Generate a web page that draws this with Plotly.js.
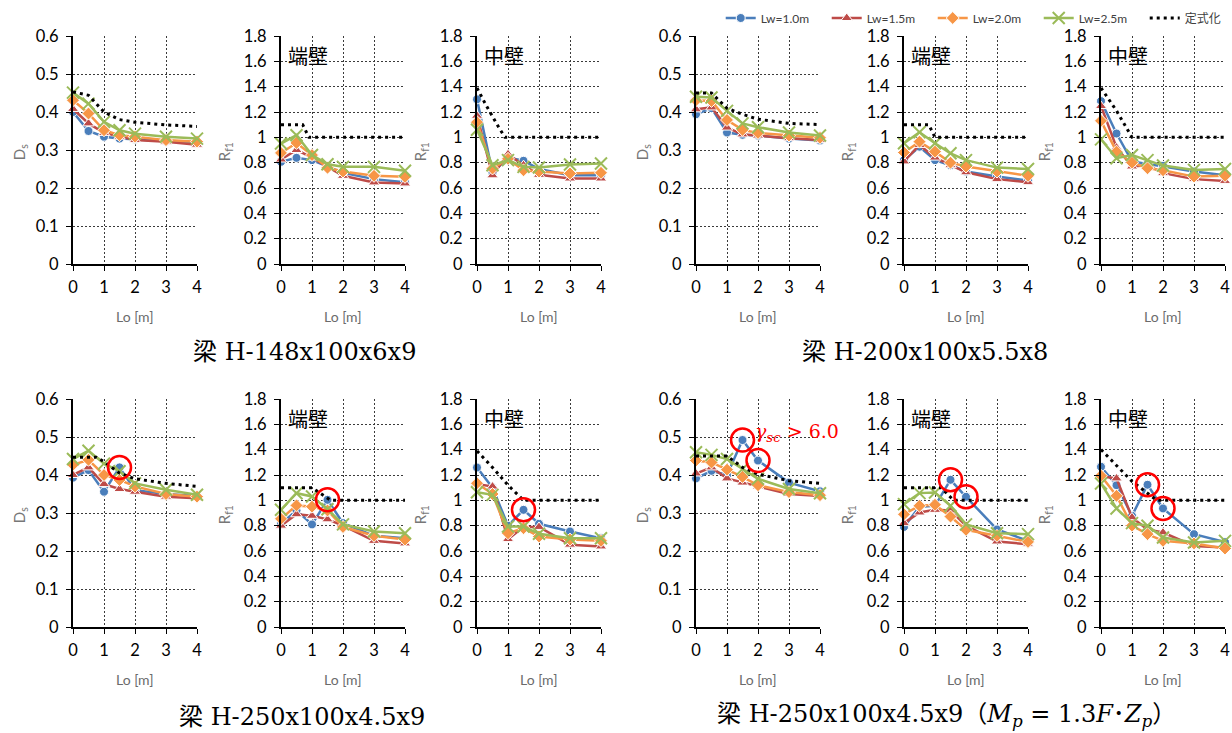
<!DOCTYPE html>
<html><head><meta charset="utf-8">
<script src="https://cdn.plot.ly/plotly-3.0.1.min.js"></script>
<style>html,body{margin:0;padding:0;background:#fff}#chart{width:1232px;height:733px}</style>
</head><body><div id="chart"></div>
<script>
// ---- common ----
const lo = [0, 0.5, 1, 1.5, 2, 3, 4];
const xTicks = [0, 1, 2, 3, 4];
const dsTicks = [0, 0.1, 0.2, 0.3, 0.4, 0.5, 0.6];
const rTicks = [0, 0.2, 0.4, 0.6, 0.8, 1, 1.2, 1.4, 1.6, 1.8];
const seriesNames = ['Lw=1.0m', 'Lw=1.5m', 'Lw=2.0m', 'Lw=2.5m'];
const formulaName = '定式化';
const wallEnd = '端壁';
const wallMid = '中壁';
const xTitle = 'Lo [m]';
const dsTitle = 'D<sub>s</sub>';
const rTitle = 'R<sub>f1</sub>';
const captions = ['梁 H-148x100x6x9', '梁 H-200x100x5.5x8', '梁 H-250x100x4.5x9',
  '梁 H-250x100x4.5x9（<i>M<sub>p</sub></i> = 1.3<i>F</i>･<i>Z<sub>p</sub></i>）'];
const noteText = '<i>γ<sub>sc</sub></i> > 6.0';

// ---- group A: H-148x100x6x9 ----
const dsA_10 = [0.40, 0.35, 0.335, 0.33, 0.328, 0.323, 0.318];
const dsA_15 = [0.408, 0.37, 0.345, 0.335, 0.326, 0.322, 0.314];
const dsA_20 = [0.431, 0.396, 0.352, 0.339, 0.335, 0.326, 0.322];
const dsA_25 = [0.451, 0.422, 0.374, 0.352, 0.343, 0.335, 0.330];
const dsA_fx = [0, 0.5, 1, 1.5, 2, 3, 4];
const dsA_fy = [0.453, 0.444, 0.40, 0.38, 0.373, 0.366, 0.362];
const endA_10 = [0.807, 0.838, 0.82, 0.77, 0.72, 0.67, 0.645];
const endA_15 = [0.825, 0.90, 0.84, 0.77, 0.696, 0.644, 0.636];
const endA_20 = [0.877, 0.956, 0.86, 0.76, 0.73, 0.696, 0.688];
const endA_25 = [0.951, 1.017, 0.86, 0.788, 0.767, 0.767, 0.736];
const endA_fx = [0, 0.7, 0.9, 4];
const endA_fy = [1.1, 1.1, 1.0, 1.0];
const midA_10 = [1.30, 0.72, 0.84, 0.815, 0.75, 0.70, 0.70];
const midA_15 = [1.17, 0.70, 0.867, 0.78, 0.704, 0.675, 0.675];
const midA_20 = [1.12, 0.754, 0.83, 0.74, 0.73, 0.715, 0.72];
const midA_25 = [1.06, 0.78, 0.82, 0.767, 0.762, 0.786, 0.793];
const midA_fx = [0, 0.3, 0.7, 0.9, 4];
const midA_fy = [1.39, 1.25, 1.08, 1.0, 1.0];

// ---- group B: H-200x100x5.5x8 ----
const dsB_10 = [0.394, 0.41, 0.346, 0.34, 0.338, 0.33, 0.325];
const dsB_15 = [0.407, 0.412, 0.359, 0.341, 0.338, 0.331, 0.326];
const dsB_20 = [0.431, 0.429, 0.379, 0.353, 0.345, 0.338, 0.332];
const dsB_25 = [0.44, 0.438, 0.403, 0.37, 0.36, 0.346, 0.338];
const dsB_fx = [0, 0.5, 1, 1.5, 2, 3, 4];
const dsB_fy = [0.45, 0.45, 0.41, 0.394, 0.381, 0.37, 0.367];
const endB_10 = [0.82, 0.926, 0.82, 0.78, 0.73, 0.69, 0.66];
const endB_15 = [0.81, 0.94, 0.84, 0.78, 0.724, 0.67, 0.646];
const endB_20 = [0.88, 0.966, 0.887, 0.80, 0.77, 0.73, 0.696];
const endB_25 = [0.953, 1.04, 0.953, 0.874, 0.82, 0.761, 0.75];
const endB_fx = [0, 0.8, 1.0, 4];
const endB_fy = [1.1, 1.1, 1.0, 1.0];
const midB_10 = [1.286, 1.03, 0.81, 0.79, 0.775, 0.73, 0.70];
const midB_15 = [1.247, 0.92, 0.77, 0.78, 0.717, 0.67, 0.656];
const midB_20 = [1.13, 0.887, 0.80, 0.756, 0.74, 0.69, 0.696];
const midB_25 = [0.984, 0.835, 0.86, 0.82, 0.777, 0.743, 0.75];
const midB_fx = [0, 0.5, 1.0, 4];
const midB_fy = [1.39, 1.21, 1.0, 1.0];

// ---- group C: H-250x100x4.5x9 ----
const dsC_10 = [0.393, 0.413, 0.356, 0.42, 0.36, 0.35, 0.345];
const dsC_15 = [0.40, 0.42, 0.376, 0.363, 0.356, 0.343, 0.339];
const dsC_20 = [0.427, 0.44, 0.40, 0.387, 0.37, 0.35, 0.343];
const dsC_25 = [0.442, 0.464, 0.43, 0.41, 0.378, 0.361, 0.348];
const dsC_fx = [0, 0.75, 1.0, 1.5, 2, 3, 4];
const dsC_fy = [0.447, 0.447, 0.435, 0.405, 0.39, 0.378, 0.37];
const endC_10 = [0.814, 0.92, 0.81, 1.004, 0.82, 0.72, 0.70];
const endC_15 = [0.80, 0.89, 0.878, 0.85, 0.80, 0.68, 0.66];
const endC_20 = [0.854, 0.96, 0.95, 0.92, 0.79, 0.72, 0.69];
const endC_25 = [0.925, 1.056, 1.03, 0.93, 0.81, 0.754, 0.74];
const endC_fx = [0, 1.0, 1.6, 4];
const endC_fy = [1.1, 1.1, 1.0, 1.0];
const midC_10 = [1.259, 1.10, 0.80, 0.925, 0.815, 0.754, 0.70];
const midC_15 = [1.13, 1.109, 0.694, 0.79, 0.79, 0.65, 0.636];
const midC_20 = [1.135, 1.05, 0.74, 0.78, 0.715, 0.69, 0.68];
const midC_25 = [1.064, 1.043, 0.793, 0.793, 0.736, 0.70, 0.70];
const midC_fx = [0, 0.5, 1.0, 1.5, 4];
const midC_fy = [1.39, 1.26, 1.12, 1.0, 1.0];
const hlC = [3];

// ---- group D: H-250x100x4.5x9 (Mp = 1.3F·Zp) ----
const dsD_10 = [0.391, 0.411, 0.40, 0.492, 0.438, 0.38, 0.357];
const dsD_15 = [0.404, 0.42, 0.391, 0.38, 0.37, 0.35, 0.345];
const dsD_20 = [0.438, 0.433, 0.414, 0.395, 0.373, 0.355, 0.347];
const dsD_25 = [0.46, 0.453, 0.442, 0.416, 0.39, 0.363, 0.352];
const dsD_fx = [0, 1.0, 1.5, 2, 3, 4];
const dsD_fy = [0.45, 0.45, 0.42, 0.402, 0.385, 0.378];
const endD_10 = [0.79, 0.95, 0.957, 1.162, 1.028, 0.77, 0.68];
const endD_15 = [0.82, 0.904, 0.925, 0.92, 0.80, 0.675, 0.654];
const endD_20 = [0.89, 0.957, 0.965, 0.872, 0.767, 0.72, 0.672];
const endD_25 = [0.97, 1.057, 1.062, 0.957, 0.81, 0.74, 0.733];
const endD_fx = [0, 1.2, 1.6, 4];
const endD_fy = [1.1, 1.1, 1.0, 1.0];
const midD_10 = [1.265, 1.12, 0.878, 1.123, 0.936, 0.733, 0.67];
const midD_15 = [1.19, 1.173, 0.865, 0.77, 0.746, 0.64, 0.627];
const midD_20 = [1.194, 1.036, 0.80, 0.733, 0.68, 0.66, 0.62];
const midD_25 = [1.133, 0.936, 0.82, 0.80, 0.706, 0.667, 0.68];
const midD_fx = [0, 1.0, 1.8, 4];
const midD_fy = [1.4, 1.15, 1.0, 1.0];
const hlD = [3, 4];

// ---- panels ----
const panels = [
  {kind:'ds', s:[dsA_10,dsA_15,dsA_20,dsA_25], fx:dsA_fx, fy:dsA_fy, hl:[]},
  {kind:'end', s:[endA_10,endA_15,endA_20,endA_25], fx:endA_fx, fy:endA_fy, hl:[]},
  {kind:'mid', s:[midA_10,midA_15,midA_20,midA_25], fx:midA_fx, fy:midA_fy, hl:[]},
  {kind:'ds', s:[dsB_10,dsB_15,dsB_20,dsB_25], fx:dsB_fx, fy:dsB_fy, hl:[]},
  {kind:'end', s:[endB_10,endB_15,endB_20,endB_25], fx:endB_fx, fy:endB_fy, hl:[]},
  {kind:'mid', s:[midB_10,midB_15,midB_20,midB_25], fx:midB_fx, fy:midB_fy, hl:[]},
  {kind:'ds', s:[dsC_10,dsC_15,dsC_20,dsC_25], fx:dsC_fx, fy:dsC_fy, hl:hlC},
  {kind:'end', s:[endC_10,endC_15,endC_20,endC_25], fx:endC_fx, fy:endC_fy, hl:hlC},
  {kind:'mid', s:[midC_10,midC_15,midC_20,midC_25], fx:midC_fx, fy:midC_fy, hl:hlC},
  {kind:'ds', s:[dsD_10,dsD_15,dsD_20,dsD_25], fx:dsD_fx, fy:dsD_fy, hl:hlD},
  {kind:'end', s:[endD_10,endD_15,endD_20,endD_25], fx:endD_fx, fy:endD_fy, hl:hlD},
  {kind:'mid', s:[midD_10,midD_15,midD_20,midD_25], fx:midD_fx, fy:midD_fy, hl:hlD}
];

const W = 1232, H = 733;
const colPx = [[73,197],[281,405],[477,601],[696,820],[904,1028],[1101,1225]];
const rowPx = [[36,264],[399,627]];

const colors = ['#4A7EBB', '#BE4B48', '#F79646', '#9BBB59'];
const symbols = ['circle', 'triangle-up', 'diamond', 'x-thin'];
const msizes = [9, 10, 10, 12];

const TF = 'Lato, "Noto Sans CJK JP", sans-serif';
const traces = [];
const layout = {
  width: W, height: H,
  margin: {l:0, r:0, t:0, b:0, autoexpand:false},
  paper_bgcolor: '#fff', plot_bgcolor: 'rgba(0,0,0,0)',
  showlegend: true,
  legend: {orientation:'h', x:0.585, xanchor:'left', y:1-18/H, yanchor:'middle',
    font:{family:TF, size:12, color:'#404040'}, bgcolor:'rgba(0,0,0,0)',
    itemwidth:30, entrywidth:61, entrywidthmode:'pixels', tracegroupgap:0},
  annotations: [], shapes: []
};

panels.forEach((p, i) => {
  const n = i + 1;
  const row = i < 6 ? 0 : 1;
  const col = i % 6;
  const xs = n === 1 ? 'x' : 'x' + n, ys = n === 1 ? 'y' : 'y' + n;
  const xk = n === 1 ? 'xaxis' : 'xaxis' + n, yk = n === 1 ? 'yaxis' : 'yaxis' + n;
  const isDs = p.kind === 'ds';
  const plotW = colPx[col][1] - colPx[col][0], plotH = rowPx[row][1] - rowPx[row][0];
  layout[xk] = {
    domain: [colPx[col][0]/W, colPx[col][1]/W], anchor: ys,
    range: [0, 4], tickmode:'array', tickvals: xTicks, ticktext: xTicks.map(String),
    showgrid: true, gridcolor:'#3a3a3a', griddash:'2px,2px', gridwidth:1,
    showline: true, linecolor:'#000', linewidth:2, zeroline:false,
    ticks:'outside', ticklen:5, tickwidth:1, tickcolor:'#000',
    ticklabelstandoff: 2,
    tickfont:{family:TF, size:16.5, color:'#000'},
    fixedrange:true
  };
  const tv = isDs ? dsTicks : rTicks;
  layout[yk] = {
    domain: [1 - rowPx[row][1]/H, 1 - rowPx[row][0]/H], anchor: xs,
    range: isDs ? [0, 0.6] : [0, 1.8], tickmode:'array', tickvals: tv, ticktext: tv.map(String),
    showgrid: true, gridcolor:'#3a3a3a', griddash:'2px,2px', gridwidth:1,
    showline: true, linecolor:'#000', linewidth:2, zeroline:false,
    ticks:'outside', ticklen:5, tickwidth:1, tickcolor:'#000',
    ticklabelstandoff: 4,
    tickfont:{family:TF, size:16.5, color:'#000'},
    fixedrange:true
  };
  // axis titles
  layout.annotations.push({
    text: xTitle, xref: xs + ' domain', yref: ys + ' domain', x: 0.5, y: -52/plotH,
    xanchor:'center', yanchor:'middle', showarrow:false,
    font:{family:TF, size:14, color:'#6b6b6b'}
  });
  layout.annotations.push({
    text: isDs ? dsTitle : rTitle, xref: xs + ' domain', yref: ys + ' domain',
    x: (isDs ? -53 : -56)/plotW, y: 0.49, xanchor:'center', yanchor:'middle', textangle:-90,
    showarrow:false, font:{family:TF, size:15, color:'#777'}
  });
  p.s.forEach((vals, k) => {
    const mk = {symbol: symbols[k], size: msizes[k], color: colors[k],
      line: k === 3 ? {color: colors[k], width: 2} : {color:'#fff', width:1}};
    traces.push({
      type:'scatter', mode:'lines+markers', x: lo, y: vals, xaxis: xs, yaxis: ys,
      name: seriesNames[k], legendgroup: seriesNames[k], showlegend: i === 0,
      line:{color: colors[k], width: 2.5}, marker: mk, cliponaxis:false, hoverinfo:'skip'
    });
  });
  traces.push({
    type:'scatter', mode:'lines', x: p.fx, y: p.fy, xaxis: xs, yaxis: ys,
    name: formulaName, legendgroup:'f', showlegend: i === 0,
    line:{color:'#000', width:3, dash:'3px,4px'}, cliponaxis:false, hoverinfo:'skip'
  });
  if (p.hl.length) {
    traces.push({
      type:'scatter', mode:'markers', x: p.hl.map(j => lo[j]), y: p.hl.map(j => p.s[0][j]),
      xaxis: xs, yaxis: ys, showlegend:false, cliponaxis:false, hoverinfo:'skip',
      marker:{symbol:'circle-open', size:23, color:'#FF0000', line:{color:'#FF0000', width:2.5}}
    });
  }
  if (!isDs) {
    layout.annotations.push({
      text: p.kind === 'end' ? wallEnd : wallMid, xref: xs + ' domain', yref: ys + ' domain',
      x: 0.04, y: 0.915, xanchor:'left', yanchor:'middle', showarrow:false,
      font:{family:'"Noto Sans CJK JP", sans-serif', size:20, color:'#000'}
    });
  }
});

// gamma note
layout.annotations.push({
  text: noteText, xref:'x10', yref:'y10', x: 3.27, y: 0.513, xanchor:'center', yanchor:'middle',
  showarrow:false, font:{family:'"DejaVu Serif", serif', size:19, color:'#FF0000'}
});

// captions
const capPos = [[304, 352], [925, 352], [302, 717], [946, 715]];
captions.forEach((c, k) => {
  layout.annotations.push({
    text: c, xref:'paper', yref:'paper', x: capPos[k][0]/W, y: 1 - capPos[k][1]/H,
    xanchor:'center', yanchor:'middle', showarrow:false,
    font:{family:'"DejaVu Serif", "Noto Sans CJK JP", serif', size:24, color:'#000'}
  });
});

Plotly.newPlot('chart', traces, layout, {staticPlot:true, displayModeBar:false});
</script></body></html>
